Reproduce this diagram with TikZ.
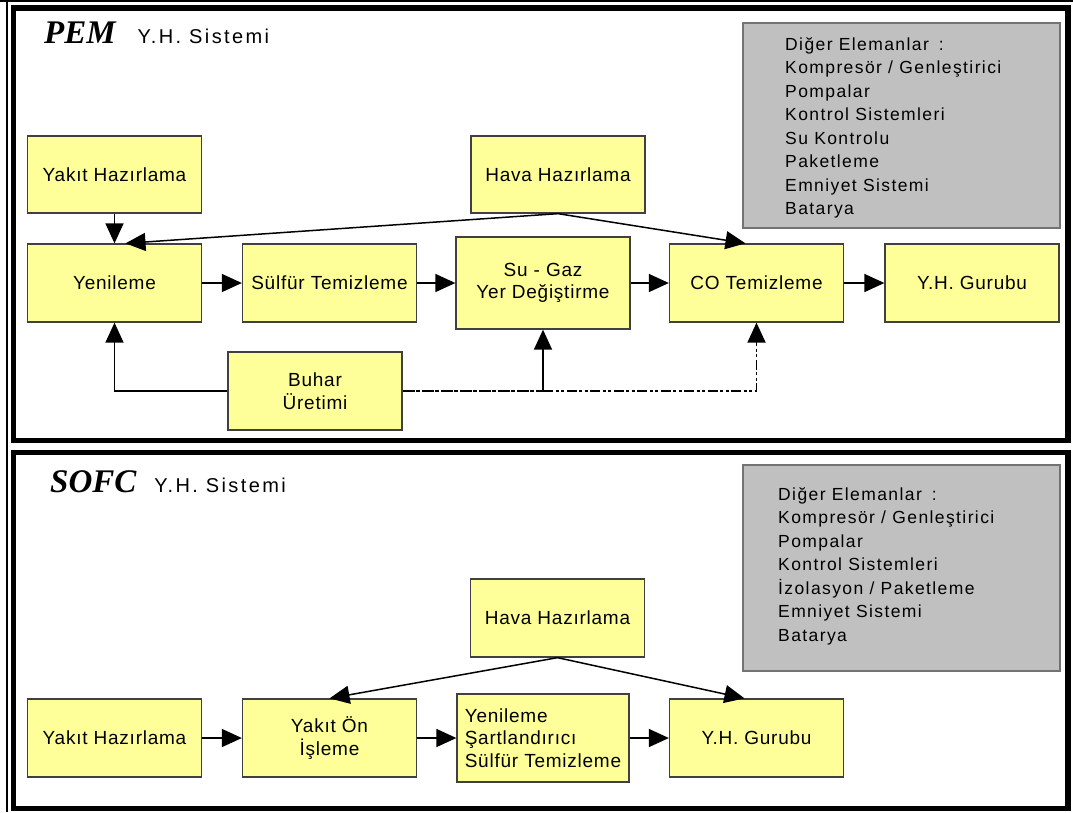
\documentclass[tikz,border=0pt]{standalone}
\usepackage{fontspec}
\setmainfont{Liberation Sans}[LetterSpace=4]
\newfontfamily\baslik{Liberation Serif}
\usepackage{tikz}
\usetikzlibrary{arrows.meta, positioning}

\definecolor{sari}{HTML}{FFFF99}
\definecolor{gri}{HTML}{C0C0C0}

\begin{document}
\begin{tikzpicture}[
    x=1pt, y=-1pt,
    box/.style={rectangle, draw=black!75, line width=1.3pt, fill=sari,
                minimum width=174pt, minimum height=78pt, inner sep=1pt,
                align=center, font=\fontsize{19}{22.5}\selectfont},
    grikutu/.style={rectangle, draw=black!55, line width=1.6pt, fill=gri,
                anchor=north west, minimum width=317pt, minimum height=205pt},
    liste/.style={anchor=north west, align=left, inner sep=0pt,
                font=\fontsize{17.5}{23.5}\selectfont\addfontfeature{LetterSpace=8}},
    baslikyazi/.style={anchor=base west, inner sep=0pt},
    cerceve/.style={draw, line width=5.5pt},
    arr/.style={-{Triangle[length=20pt, width=18pt]}, line width=1.5pt},
    kesik/.style={arr, dash pattern=on 10pt off 2.5pt on 3pt off 2.5pt on 3pt off 2.5pt}
]
\useasboundingbox[fill=white] (0,0) rectangle (1073,812);

\draw[cerceve] (13.5,8) rectangle (1068,440.5);
\draw[cerceve] (13.5,452.5) rectangle (1068,808.5);
\draw[line width=1.5pt] (7,0) -- (7,812);
\draw[line width=1.5pt] (0,1) -- (1073,1);

% PEM
\node[baslikyazi] (pem) at (44,43)
  {{\baslik\bfseries\itshape\fontsize{33}{36}\selectfont PEM}\hspace{22pt}%
   {\fontsize{20}{24}\selectfont\addfontfeature{LetterSpace=12}Y.H. Sistemi}};
\node[box, minimum height=77pt] (yakit1) at (114.5,174.5) {Yakıt Hazırlama};
\node[box, minimum height=77pt] (hava1) at (558,174.5) {Hava Hazırlama};
\node[box] (yenileme) at (114.5,283) {Yenileme};
\node[box] (sulfur) at (329.5,283) {Sülfür Temizleme};
\node[box, minimum height=92pt] (sugaz) at (543,283) {Su - Gaz\\Yer Değiştirme};
\node[box] (co) at (756.5,283) {CO Temizleme};
\node[box] (gurubu1) at (972,283) {Y.H. Gurubu};
\node[box] (buhar) at (315,391) {Buhar\\Üretimi};
\node[grikutu] (diger1) at (742,22) {};
\node[liste] (liste1) at (785,37) {Diğer Elemanlar\hspace{10pt}:\\Kompresör / Genleştirici\\Pompalar\\
  Kontrol Sistemleri\\Su Kontrolu\\Paketleme\\Emniyet Sistemi\\Batarya};

\draw[arr] (yakit1) -- (yenileme);
\draw[arr] (hava1.south) -- ([xshift=11pt]yenileme.north);
\draw[arr] (hava1.south) -- ([xshift=-11pt]co.north);
\draw[arr] (yenileme) -- (sulfur);
\draw[arr] (sulfur) -- (sugaz);
\draw[arr] (sugaz) -- (co);
\draw[arr] (co) -- (gurubu1);
\draw[arr] (buhar.west) -| (yenileme.south);
\coordinate (kavsak) at (sugaz.south |- buhar.east);
\draw[line width=2.2pt, dash pattern=on 12pt off 1.5pt on 4pt off 1.5pt] (buhar.east) -- (kavsak);
\draw[arr] (kavsak) -- (sugaz.south);
\draw[kesik, line width=1.8pt] (kavsak) -| (co.south);

% SOFC
\node[baslikyazi] (sofc) at (50,492)
  {{\baslik\bfseries\itshape\fontsize{33}{36}\selectfont SOFC}\hspace{18pt}%
   {\fontsize{20}{24}\selectfont\addfontfeature{LetterSpace=12}Y.H. Sistemi}};
\node[box] (yakit2) at (114.5,738) {Yakıt Hazırlama};
\node[box] (onisleme) at (329.5,738) {Yakıt Ön\\İşleme};
\node[box, minimum width=172pt, minimum height=88pt, align=left] (sartlandirici) at (543,738)
  {Yenileme\\Şartlandırıcı\\Sülfür Temizleme};
\node[box] (gurubu2) at (756.5,738) {Y.H. Gurubu};
\node[box] (hava2) at (557.5,618) {Hava Hazırlama};
\node[grikutu, minimum height=206pt] (diger2) at (742,464) {};
\node[liste] (liste2) at (778,487) {Diğer Elemanlar\hspace{10pt}:\\Kompresör / Genleştirici\\Pompalar\\
  Kontrol Sistemleri\\İzolasyon / Paketleme\\Emniyet Sistemi\\Batarya};

\draw[arr] (yakit2) -- (onisleme);
\draw[arr] (onisleme) -- (sartlandirici);
\draw[arr] (sartlandirici) -- (gurubu2);
\draw[arr] (hava2.south) -- (onisleme.north);
\draw[arr] (hava2.south) -- ([xshift=-12pt]gurubu2.north);
\end{tikzpicture}
\end{document}
